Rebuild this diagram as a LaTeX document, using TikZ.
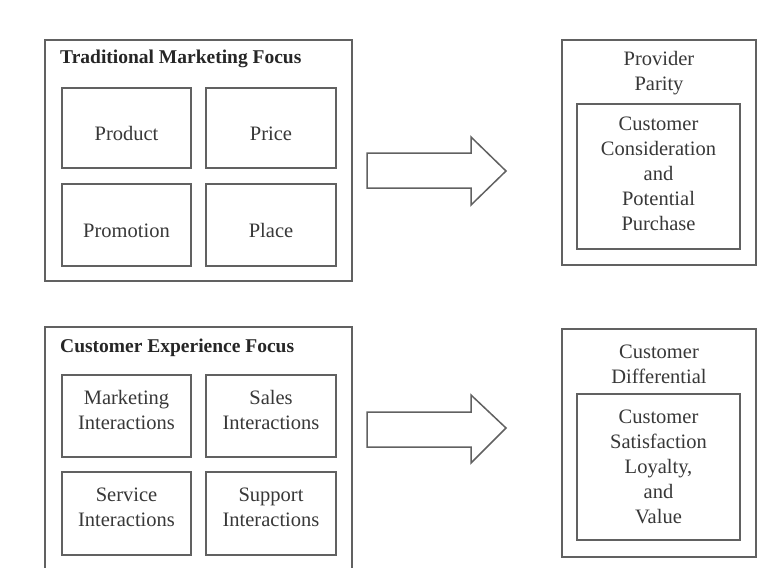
\documentclass[tikz,border=0pt]{standalone}
\usepackage{fontspec}
\setmainfont{Liberation Serif}
\begin{document}
\begin{tikzpicture}[x=1pt,y=-1pt,
  line/.style={draw=black!62, line width=1.5pt},
  frame/.style={line, rectangle, inner sep=0pt},
  cell/.style={frame, text=black!78, align=center,
    font=\fontsize{20.5}{25}\selectfont},
  onecell/.style={cell, text height=24pt, text depth=0pt},
  heading/.style={anchor=west, inner sep=0pt, text=black!85,
    font=\fontsize{19.5}{24}\selectfont\bfseries},
  label/.style={inner sep=0pt, align=center, text=black!78,
    font=\fontsize{20.5}{25}\selectfont},
  blockarrow/.style={line, fill=white, line join=miter}
]
\useasboundingbox (0,0) rectangle (761,568);
\fill[white] (0,0) rectangle (761,568);

% ---- Traditional marketing focus ----
\node[frame, minimum width=307pt, minimum height=241pt] (tmf) at (198.5,160.5) {};
\node[heading] (tmfT) at (60,59) {Traditional Marketing Focus};
\node[onecell, minimum width=129pt, minimum height=80pt] (product) at (126.5,128) {Product};
\node[onecell, minimum width=130pt, minimum height=80pt] (price) at (271,128) {Price};
\node[onecell, minimum width=129pt, minimum height=82pt] (promotion) at (126.5,225) {Promotion};
\node[onecell, minimum width=130pt, minimum height=82pt] (place) at (271,225) {Place};

% block arrow to the outcome
\draw[blockarrow] (367,153) -- (471,153) -- (471,137) -- (506,171)
  -- (471,205) -- (471,188) -- (367,188) -- cycle;

% ---- Provider parity ----
\node[frame, minimum width=194pt, minimum height=225pt] (pp) at (659,152.5) {};
\node[label] (ppT) at (659,73) {Provider\\Parity};
\node[cell, minimum width=163pt, minimum height=145pt] (ccp) at (658.5,176.5)
  {Customer\\Consideration\\and\\Potential\\Purchase\\[-19pt]};

% ---- Customer experience focus ----
\node[frame, minimum width=307pt, minimum height=260pt] (cef) at (198.5,457) {};
\node[heading] (cefT) at (60,348) {Customer Experience Focus};
\node[cell, minimum width=129pt, minimum height=82pt] (mkt) at (126.5,416) {Marketing\\Interactions\\[-12pt]};
\node[cell, minimum width=130pt, minimum height=82pt] (sales) at (271,416) {Sales\\Interactions\\[-12pt]};
\node[cell, minimum width=129pt, minimum height=83pt] (service) at (126.5,513.5) {Service\\Interactions\\[-12pt]};
\node[cell, minimum width=130pt, minimum height=83pt] (support) at (271,513.5) {Support\\Interactions\\[-12pt]};

% block arrow to the outcome
\draw[blockarrow] (367,412) -- (471,412) -- (471,395) -- (506,428)
  -- (471,463) -- (471,447) -- (367,447) -- cycle;

% ---- Customer differential ----
\node[frame, minimum width=194pt, minimum height=228pt] (cd) at (659,443) {};
\node[label] (cdT) at (659,364) {Customer\\Differential};
\node[cell, minimum width=163pt, minimum height=146pt] (csl) at (658.5,467)
  {Customer\\Satisfaction\\Loyalty,\\and\\Value};
\end{tikzpicture}
\end{document}
